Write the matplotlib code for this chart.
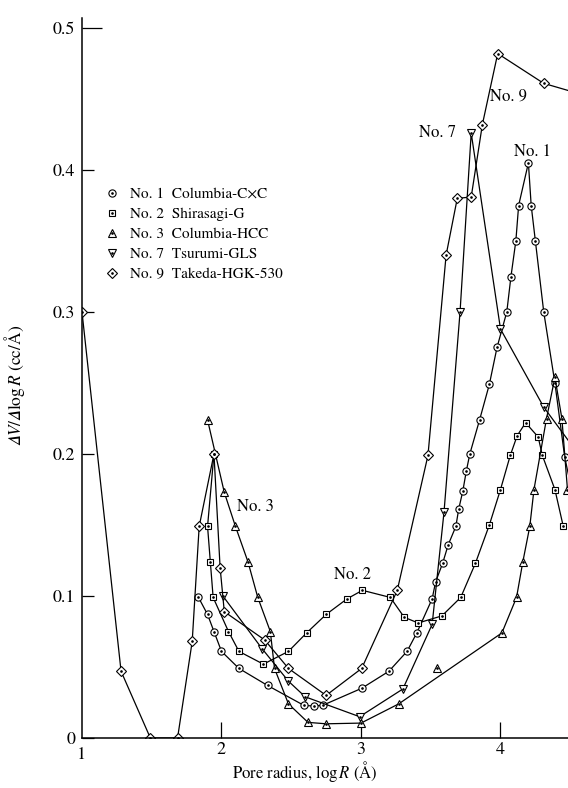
import matplotlib.pyplot as plt
from matplotlib.lines import Line2D

plt.rcParams['font.family'] = ['STIXGeneral', 'DejaVu Serif']
plt.rcParams['mathtext.fontset'] = 'stix'

# No.1 Columbia-CxC (circles)
x1 = [1.835, 1.90, 1.946, 2.0, 2.125, 2.33, 2.59, 2.66, 2.725, 3.005, 3.20, 3.33, 3.40, 3.51, 3.535,
      3.585, 3.625, 3.68, 3.70, 3.73, 3.755, 3.78, 3.85, 3.92, 3.975, 4.045, 4.075, 4.11, 4.13, 4.20,
      4.22, 4.25, 4.31, 4.39, 4.46, 4.52]
y1 = [0.099, 0.087, 0.075, 0.061, 0.049, 0.037, 0.023, 0.0225, 0.023, 0.035, 0.047, 0.061, 0.074, 0.098, 0.11,
      0.123, 0.136, 0.149, 0.161, 0.174, 0.188, 0.200, 0.224, 0.249, 0.275, 0.300, 0.325, 0.350, 0.375, 0.405,
      0.375, 0.350, 0.300, 0.250, 0.198, 0.170]

# No.2 Shirasagi-G (squares)
x2 = [1.946, 1.90, 1.92, 1.94, 2.05, 2.125, 2.30, 2.48, 2.61, 2.75, 2.90, 3.01, 3.21, 3.31, 3.41,
      3.58, 3.715, 3.82, 3.92, 4.0, 4.07, 4.12, 4.18, 4.27, 4.30, 4.39, 4.45]
y2 = [0.200, 0.149, 0.124, 0.099, 0.075, 0.061, 0.052, 0.061, 0.074, 0.087, 0.098, 0.104, 0.099, 0.085, 0.081,
      0.086, 0.099, 0.123, 0.150, 0.175, 0.199, 0.213, 0.222, 0.212, 0.199, 0.175, 0.149]

# No.3 Columbia-HCC (triangles)
x3 = [1.90, 2.02, 2.10, 2.19, 2.26, 2.35, 2.38, 2.48, 2.62, 2.75, 3.0, 3.27, 4.01, 4.115, 4.16,
      4.21, 4.24, 4.33, 4.39, 4.44, 4.48]
y3 = [0.224, 0.173, 0.149, 0.124, 0.099, 0.075, 0.049, 0.024, 0.011, 0.010, 0.0105, 0.024, 0.074, 0.099, 0.124,
      0.149, 0.175, 0.225, 0.254, 0.225, 0.175]
x3_single = [3.545]
y3_single = [0.049]

# No.7 Tsurumi-GLS (inverted triangles)
x7 = [2.01, 2.29, 2.48, 2.60, 2.99, 3.30, 3.51, 3.595, 3.71, 3.79, 4.0, 4.31, 4.52]
y7 = [0.100, 0.063, 0.040, 0.029, 0.015, 0.0345, 0.080, 0.159, 0.300, 0.426, 0.288, 0.233, 0.205]

# No.9 Takeda-HGK-530 (diamonds)
x9 = [1.0, 1.28, 1.49, 1.685, 1.79, 1.84, 1.946, 1.99, 2.02, 2.31, 2.48, 2.75, 3.005, 3.26, 3.48,
      3.61, 3.69, 3.79, 3.87, 3.98, 4.31, 4.52]
y9 = [0.300, 0.047, 0.0, 0.0, 0.068, 0.149, 0.200, 0.120, 0.089, 0.069, 0.049, 0.030, 0.049, 0.104, 0.199,
      0.340, 0.380, 0.381, 0.432, 0.482, 0.461, 0.455]

labels = ['No. 1  Columbia-C×C', 'No. 2  Shirasagi-G', 'No. 3  Columbia-HCC',
          'No. 7  Tsurumi-GLS', 'No. 9  Takeda-HGK-530']

fig = plt.figure(figsize=(5.68, 7.88), dpi=100)
ax = fig.add_axes([82/568, 50/788, 486/568, 720/788])

series = [(x1, y1, 'o', 5.2), (x2, y2, 's', 4.9), (x3, y3, '^', 5.8),
          (x7, y7, 'v', 5.8), (x9, y9, 'D', 4.8)]
handles = []
for x, y, m, ms in series:
    ax.plot(x, y, color='k', lw=0.9, marker=m, ms=ms, mfc='white', mec='k', mew=0.8, zorder=2)
    ax.plot(x, y, ls='none', marker='.', ms=1.8, color='k', zorder=3)
    h1 = Line2D([], [], ls='none', marker=m, ms=ms, mfc='white', mec='k', mew=0.8)
    h2 = Line2D([], [], ls='none', marker='.', ms=1.8, color='k')
    handles.append((h1, h2))

ax.plot(x3_single, y3_single, ls='none', marker='^', ms=5.8, mfc='white', mec='k', mew=0.8, zorder=2)
ax.plot(x3_single, y3_single, ls='none', marker='.', ms=1.8, color='k', zorder=3)

ax.set_xlim(1.0, 1 + 486/139.5)
ax.set_ylim(0, 720/1420)
ax.spines['top'].set_visible(False)
ax.spines['right'].set_visible(False)
ax.spines['left'].set_linewidth(1.1)
ax.spines['bottom'].set_linewidth(1.1)

ax.set_xticks([2, 3, 4])
ax.set_yticks([0, 0.1, 0.2, 0.3, 0.4, 0.5])
ax.set_yticklabels(['0', '0.1', '0.2', '0.3', '0.4', '0.5'], fontsize=13)
ax.set_xticklabels(['2', '3', '4'], fontsize=13)
ax.tick_params(axis='y', direction='in', length=8.6, width=0.9, pad=5)
ax.tick_params(axis='x', direction='in', length=11.5, width=0.9, pad=3)
ax.yaxis.get_major_ticks()[-1].tick1line.set_markersize(14.4)
ax.text(1.0, -0.006, '1', ha='center', va='top', fontsize=13)

fig.text(15/568, 1 - 385/788, '\U0001D6E5$V/$\U0001D6E5$\\log R$ (cc/Å)',
         rotation=90, ha='center', va='center', fontsize=12.5)
fig.text(305/568, 1 - 772/788, r'Pore radius, $\log R$ (Å)', ha='center', va='center', fontsize=12)

ax.text(4.06, 0.452, 'No. 9', ha='center', va='center', fontsize=12)
ax.text(3.55, 0.426, 'No. 7', ha='center', va='center', fontsize=12)
ax.text(4.23, 0.413, 'No. 1', ha='center', va='center', fontsize=12)
ax.text(2.24, 0.163, 'No. 3', ha='center', va='center', fontsize=12)
ax.text(2.94, 0.115, 'No. 2', ha='center', va='center', fontsize=12)

ax.legend(handles, labels, loc='upper left', bbox_to_anchor=(0.045, 0.765), frameon=False,
          fontsize=11, handlelength=1.0, handletextpad=0.7, labelspacing=0.42, borderpad=0,
          borderaxespad=0)

fig.savefig('out.png', dpi=100)
